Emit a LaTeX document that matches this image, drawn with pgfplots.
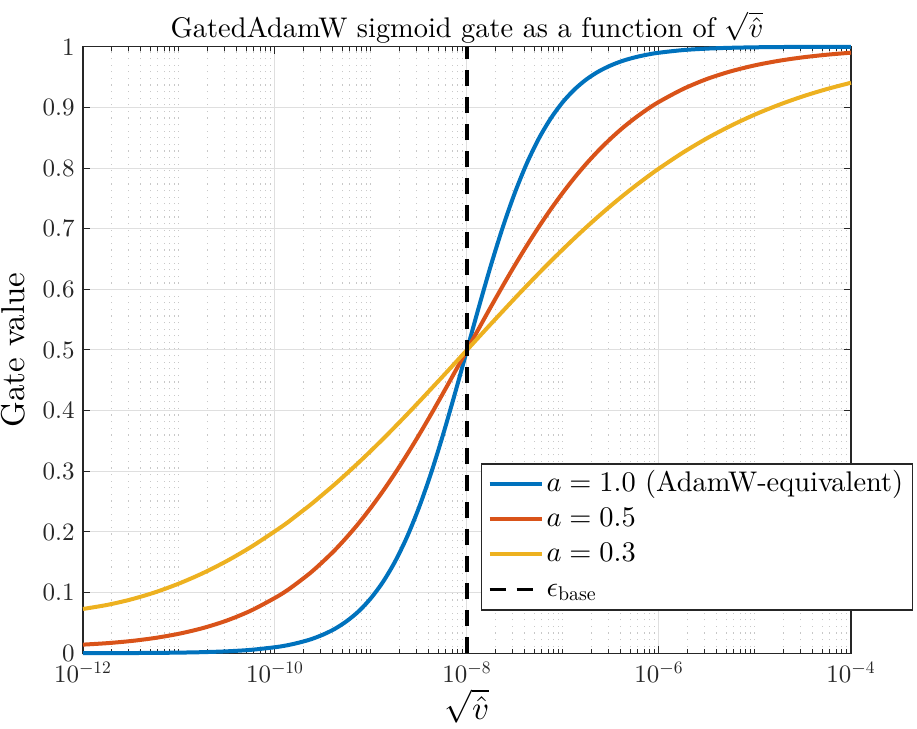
\RequirePackage{fix-cm}
\documentclass[border=0pt]{standalone}
\usepackage{fontspec}
\setmainfont{lmroman10-regular.otf}[ItalicFont=lmroman10-italic.otf,BoldFont=lmroman10-bold.otf,BoldItalicFont=lmroman10-bolditalic.otf]
\DeclareFontShape{OT1}{cmr}{m}{n}{<->cmr10}{}
\DeclareFontShape{OML}{cmm}{m}{it}{<->cmmi10}{}
\usepackage{pgfplots}
\usepackage{pgfplotstable}
\pgfplotsset{compat=1.18}
\definecolor{mblue}{RGB}{0,114,189}
\definecolor{mred}{RGB}{217,83,25}
\definecolor{myel}{RGB}{237,177,32}
\definecolor{axgray}{RGB}{38,38,38}
\definecolor{gridmaj}{RGB}{223,223,223}
\definecolor{gridmin}{RGB}{200,200,200}
\newcommand{\ls}{\rule[-5pt]{0pt}{17.5pt}}
\newcommand{\lsb}{\rule[-5.5pt]{0pt}{18pt}}

\pgfplotstableread{
x blue red yellow
1e-12 0.00021 0.01429 0.0731
1.778e-12 0.00029 0.01668 0.0797
3.162e-12 0.00043 0.02023 0.0888
5.623e-12 0.00067 0.02527 0.1005
1e-11 0.00111 0.03224 0.1150
1.778e-11 0.00189 0.04164 0.1322
3.162e-11 0.00326 0.05411 0.1523
5.623e-11 0.00570 0.07039 0.1753
1e-10 0.01001 0.09137 0.2013
1.3335e-10 0.01316 0.10353 0.21498
1.778e-10 0.01758 0.1180 0.2302
2.3714e-10 0.02316 0.13344 0.24554
3.162e-10 0.03073 0.1512 0.2621
4.217e-10 0.04046 0.17036 0.27892
5.623e-10 0.05334 0.1918 0.2967
7.499e-10 0.06976 0.21498 0.31494
1e-9 0.0910 0.2403 0.3339
1.3335e-9 0.1177 0.2675 0.3533
1.778e-9 0.1510 0.2966 0.3733
2.3714e-9 0.1917 0.3275 0.3937
3.162e-9 0.2403 0.3599 0.4145
4.217e-9 0.2966 0.3937 0.4357
5.623e-9 0.3600 0.4285 0.4569
7.499e-9 0.4285 0.4641 0.4784
1e-8 0.5 0.5 0.5
1.3335e-8 0.5715 0.5359 0.5216
1.778e-8 0.6400 0.5715 0.5431
2.3714e-8 0.7034 0.6063 0.5643
3.162e-8 0.7597 0.6401 0.5855
4.217e-8 0.8083 0.6725 0.6063
5.623e-8 0.8490 0.7034 0.6267
7.499e-8 0.8823 0.7325 0.6467
1e-7 0.9091 0.7597 0.6661
1.3335e-7 0.93024 0.78502 0.68506
1.778e-7 0.9468 0.8083 0.7034
2.3714e-7 0.95954 0.82964 0.72108
3.162e-7 0.9693 0.8490 0.7381
4.217e-7 0.97684 0.86656 0.75446
5.623e-7 0.9825 0.8823 0.7701
7.499e-7 0.98684 0.89647 0.78502
1e-6 0.9901 0.9091 0.7992
1.778e-6 0.99441 0.9302 0.8255
3.162e-6 0.99685 0.9468 0.8490
5.623e-6 0.99822 0.9595 0.8698
1e-5 0.99900 0.9693 0.8882
1.778e-5 0.99944 0.9768 0.9042
3.162e-5 0.99968 0.9825 0.9182
5.623e-5 0.99982 0.9868 0.9302
1e-4 0.99990 0.9901 0.9406
}\gatetable

\begin{document}
\begin{tikzpicture}
\begin{semilogxaxis}[
  at={(0,0)}, anchor=south west,
  scale only axis, width=384pt, height=303.3pt,
  xmin=1e-12, xmax=1e-4, ymin=0, ymax=1,
  clip=false,
  xtick={1e-12,1e-10,1e-8,1e-6,1e-4},
  minor xtick={2e-12,3e-12,4e-12,5e-12,6e-12,7e-12,8e-12,9e-12,
    1e-11,2e-11,3e-11,4e-11,5e-11,6e-11,7e-11,8e-11,9e-11,
    2e-10,3e-10,4e-10,5e-10,6e-10,7e-10,8e-10,9e-10,
    1e-9,2e-9,3e-9,4e-9,5e-9,6e-9,7e-9,8e-9,9e-9,
    2e-8,3e-8,4e-8,5e-8,6e-8,7e-8,8e-8,9e-8,
    1e-7,2e-7,3e-7,4e-7,5e-7,6e-7,7e-7,8e-7,9e-7,
    2e-6,3e-6,4e-6,5e-6,6e-6,7e-6,8e-6,9e-6,
    1e-5,2e-5,3e-5,4e-5,5e-5,6e-5,7e-5,8e-5,9e-5},
  ytick={0,0.1,0.2,0.3,0.4,0.5,0.6,0.7,0.8,0.9,1},
  yticklabels={0,0.1,0.2,0.3,0.4,0.5,0.6,0.7,0.8,0.9,1},
  xmajorgrids, xminorgrids, ymajorgrids,
  major grid style={color=gridmaj, line width=0.5pt},
  minor grid style={color=gridmin, line width=0.5pt, dash pattern=on 0.6pt off 2.7pt},
  tick align=inside,
  major tick length=3.5pt, minor tick length=2.2pt,
  every tick/.style={axgray, line width=0.5pt},
  axis line style={axgray, line width=0.8pt},
  tick label style={font=\fontsize{12.5}{15}\selectfont, color=axgray},
  xticklabel style={anchor=base, yshift=-14.7pt},
  yticklabel style={anchor=east, inner sep=0pt, xshift=-4pt},
  title={GatedAdamW sigmoid gate as a function of $\sqrt{\hat{v}}$},
  title style={font=\fontsize{14.2}{17}\selectfont, at={(axis description cs:0.5,1)}, anchor=base, yshift=-1.5pt},
  xlabel={$\sqrt{\hat{v}}$},
  xlabel style={font=\fontsize{16.5}{20}\selectfont, at={(axis description cs:0.5,0)}, anchor=base, yshift=-33pt},
  ylabel={Gate value},
  ylabel style={font=\fontsize{16.5}{20}\selectfont, at={(axis description cs:-0.0755,0.5)}, anchor=base},
  legend style={at={(axis description cs:0.5182,0.3132)}, anchor=north west,
    draw=axgray, line width=0.6pt, fill=white,
    font=\fontsize{14.2}{17.5}\selectfont,
    inner xsep=3pt, inner ysep=1.25pt,
    nodes={inner xsep=1.5pt, inner ysep=0pt, text depth=}},
  legend cell align=left,
  legend image code/.code={\draw[#1] (0pt,0pt) -- (26pt,0pt);},
]
\addplot[mblue, line width=2pt, smooth] table[x=x, y=blue] {\gatetable};
\addlegendentry{\ls$a = 1.0$ (AdamW-equivalent)}
\addplot[mred, line width=2pt, smooth] table[x=x, y=red] {\gatetable};
\addlegendentry{\ls$a = 0.5$}
\addplot[myel, line width=2pt, smooth] table[x=x, y=yellow] {\gatetable};
\addlegendentry{\ls$a = 0.3$}
\addplot[black, line width=1.6pt, dash pattern=on 8pt off 5.5pt] coordinates {(1e-8,0) (1e-8,1)};
\addlegendentry{\lsb$\epsilon_{\mathrm{base}}$}
\end{semilogxaxis}
\pgfresetboundingbox
\path[use as bounding box] (-41.5pt,-37.85pt) rectangle (417pt,326.65pt);
\end{tikzpicture}
\end{document}
